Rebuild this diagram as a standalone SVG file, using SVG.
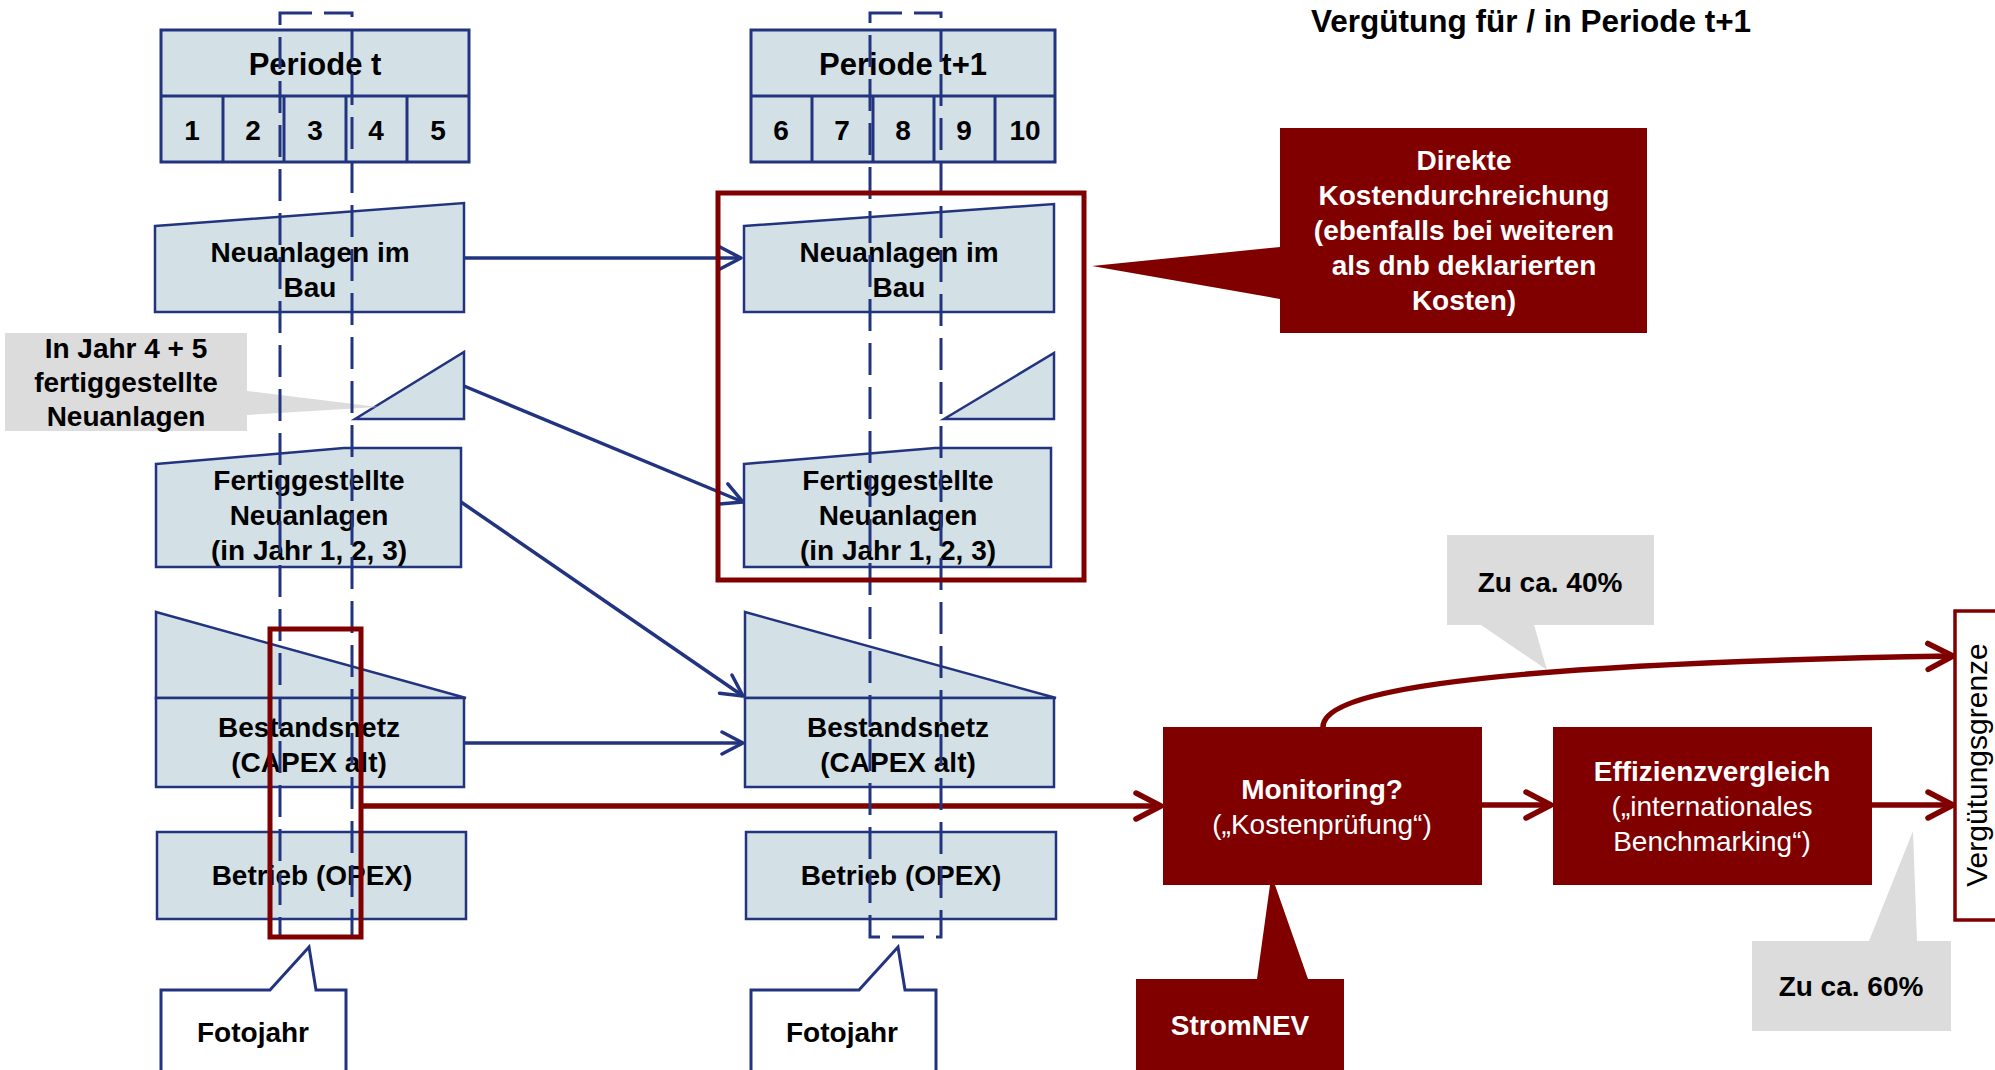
<svg xmlns="http://www.w3.org/2000/svg" width="1995" height="1070" viewBox="0 0 1995 1070">
<style>
.box{fill:#D3E0E6;stroke:#22347F;stroke-width:2.5}
.hdr{fill:#D3E0E6;stroke:#22347F;stroke-width:3}
.t{font-family:"Liberation Sans",Arial,sans-serif;font-weight:bold;font-size:28px;text-anchor:middle;fill:#000}
.w{fill:#fff}
.n{font-weight:normal}
.dash{fill:none;stroke:#22347F;stroke-width:3;stroke-dasharray:32 12}
.nav{fill:none;stroke:#22347F;stroke-width:3.5;marker-end:url(#ah)}
.red{fill:none;stroke:#800000;stroke-width:5.5;marker-end:url(#ahr)}
.hl{fill:none;stroke:#800000;stroke-width:5}
.gray{fill:#DCDCDC}
.dr{fill:#800000}
.foto{fill:#fff;stroke:#22347F;stroke-width:3}
</style>
<defs>
<marker id="ah" markerUnits="userSpaceOnUse" markerWidth="26" markerHeight="28" viewBox="0 0 26 28" refX="23" refY="14" orient="auto"><path d="M2,3 L23,14 L2,25" fill="none" stroke="#22347F" stroke-width="3.5" stroke-linecap="round" stroke-linejoin="round"/></marker>
<marker id="ahr" markerUnits="userSpaceOnUse" markerWidth="32" markerHeight="34" viewBox="0 0 32 34" refX="28" refY="17" orient="auto"><path d="M3,4 L28,17 L3,30" fill="none" stroke="#800000" stroke-width="5.5" stroke-linecap="round" stroke-linejoin="round"/></marker>
</defs>

<text class="t" x="1531" y="32" style="font-size:31.5px">Vergütung für / in Periode t+1</text>

<g id="periode-t">
<rect class="hdr" x="161" y="30" width="308" height="132"/>
<path d="M161,96 H469 M223,96 V162 M284,96 V162 M346,96 V162 M407,96 V162" stroke="#22347F" stroke-width="3" fill="none"/>
<text class="t" x="315" y="75" style="font-size:31px">Periode t</text>
<text class="t" x="192" y="140">1</text>
<text class="t" x="253" y="140">2</text>
<text class="t" x="315" y="140">3</text>
<text class="t" x="376" y="140">4</text>
<text class="t" x="438" y="140">5</text>
</g>
<g id="periode-t1">
<rect class="hdr" x="751" y="30" width="304" height="132"/>
<path d="M751,96 H1055 M812,96 V162 M873,96 V162 M934,96 V162 M995,96 V162" stroke="#22347F" stroke-width="3" fill="none"/>
<text class="t" x="903" y="75" style="font-size:31px">Periode t+1</text>
<text class="t" x="781" y="140">6</text>
<text class="t" x="842" y="140">7</text>
<text class="t" x="903" y="140">8</text>
<text class="t" x="964" y="140">9</text>
<text class="t" x="1025" y="140">10</text>
</g>

<g id="neuanlagen-bau-t">
<polygon class="box" points="155,226 464,203 464,312 155,312"/>
<text class="t" x="310" y="262">Neuanlagen im</text>
<text class="t" x="310" y="297">Bau</text>
</g>
<g id="neuanlagen-bau-t1">
<polygon class="box" points="744,226 1054,204 1054,312 744,312"/>
<text class="t" x="899" y="262">Neuanlagen im</text>
<text class="t" x="899" y="297">Bau</text>
</g>
<g id="dreieck-t"><polygon class="box" points="355,419 464,352 464,419"/></g>
<g id="dreieck-t1"><polygon class="box" points="944,419 1054,353 1054,419"/></g>
<g id="fertig-t">
<polygon class="box" points="156,464 344,448 461,448 461,567 156,567"/>
<text class="t" x="309" y="490">Fertiggestellte</text>
<text class="t" x="309" y="525">Neuanlagen</text>
<text class="t" x="309" y="560">(in Jahr 1, 2, 3)</text>
</g>
<g id="fertig-t1">
<polygon class="box" points="744,464 935,448 1051,448 1051,567 744,567"/>
<text class="t" x="898" y="490">Fertiggestellte</text>
<text class="t" x="898" y="525">Neuanlagen</text>
<text class="t" x="898" y="560">(in Jahr 1, 2, 3)</text>
</g>
<g id="bestand-t">
<polygon class="box" points="156,612 466,698 156,698"/>
<rect class="box" x="156" y="698" width="308" height="89"/>
<text class="t" x="309" y="737">Bestandsnetz</text>
<text class="t" x="309" y="772">(CAPEX alt)</text>
</g>
<g id="bestand-t1">
<polygon class="box" points="745,612 1056,698 745,698"/>
<rect class="box" x="745" y="698" width="309" height="89"/>
<text class="t" x="898" y="737">Bestandsnetz</text>
<text class="t" x="898" y="772">(CAPEX alt)</text>
</g>
<g id="betrieb-t">
<rect class="box" x="157" y="832" width="309" height="87"/>
<text class="t" x="312" y="885">Betrieb (OPEX)</text>
</g>
<g id="betrieb-t1">
<rect class="box" x="746" y="832" width="310" height="87"/>
<text class="t" x="901" y="885">Betrieb (OPEX)</text>
</g>

<g id="callout-jahr45">
<path class="gray" d="M5,333 H247 V391 L378,407 L247,415 V431 H5 Z"/>
<text class="t" x="126" y="358">In Jahr 4 + 5</text>
<text class="t" x="126" y="392">fertiggestellte</text>
<text class="t" x="126" y="426">Neuanlagen</text>
</g>

<g id="fotojahr-t">
<path class="foto" d="M161,1075 V990 H270 L309,947 L316,990 H346 V1075"/>
<text class="t" x="253" y="1042">Fotojahr</text>
</g>
<g id="fotojahr-t1">
<path class="foto" d="M751,1075 V990 H859 L898,947 L905,990 H936 V1075"/>
<text class="t" x="842" y="1042">Fotojahr</text>
</g>

<g id="callout-direkt">
<path class="dr" d="M1280,128 H1647 V333 H1280 V299 L1092,266 L1280,247 Z"/>
<text class="t w" x="1464" y="170">Direkte</text>
<text class="t w" x="1464" y="205">Kostendurchreichung</text>
<text class="t w" x="1464" y="240">(ebenfalls bei weiteren</text>
<text class="t w" x="1464" y="275">als dnb deklarierten</text>
<text class="t w" x="1464" y="310">Kosten)</text>
</g>

<g id="monitoring">
<rect class="dr" x="1163" y="727" width="319" height="158"/>
<text class="t w" x="1322" y="799">Monitoring?</text>
<text class="t w n" x="1322" y="834">(„Kostenprüfung“)</text>
</g>
<g id="effizienz">
<rect class="dr" x="1553" y="727" width="319" height="158"/>
<text class="t w" x="1712" y="781">Effizienzvergleich</text>
<text class="t w n" x="1712" y="816">(„internationales</text>
<text class="t w n" x="1712" y="851">Benchmarking“)</text>
</g>
<g id="stromnev">
<path class="dr" d="M1136,1075 V979 H1257 L1270,885 L1275,885 L1308,979 H1344 V1075 Z"/>
<text class="t w" x="1240" y="1035">StromNEV</text>
</g>
<g id="callout-40">
<path class="gray" d="M1447,535 H1654 V625 H1534 L1547,670 L1481,625 H1447 Z"/>
<text class="t" x="1550" y="592">Zu ca. 40%</text>
</g>
<g id="callout-60">
<path class="gray" d="M1752,941 H1869 L1913,831 L1917,941 H1951 V1031 H1752 Z"/>
<text class="t" x="1851" y="996">Zu ca. 60%</text>
</g>
<g id="verguetungsgrenze">
<rect x="1955" y="611" width="60" height="309" fill="#fff" stroke="#800000" stroke-width="3.5"/>
<text x="1987" y="765" transform="rotate(-90 1987 765)" style="font-family:'Liberation Sans',Arial,sans-serif;font-size:30px;text-anchor:middle;fill:#000">Vergütungsgrenze</text>
</g>

<g id="connectors">
<path class="nav" d="M464,258 L741,258"/>
<path class="nav" d="M464,386 L743,502"/>
<path class="nav" d="M461,502 L743,696"/>
<path class="nav" d="M464,743 L743,743"/>
<path class="red" d="M361,806 H1161"/>
<path class="red" d="M1482,805 H1551"/>
<path class="red" d="M1872,805 H1953"/>
<path class="red" d="M1323,727 C1323,698 1420,665 1953,656"/>
</g>

<g id="zeitfenster">
<rect class="dash" x="280" y="13" width="72" height="924"/>
<rect class="dash" x="870" y="13" width="71" height="924"/>
</g>
<g id="markierungen">
<rect class="hl" x="718" y="193" width="366" height="387"/>
<rect class="hl" x="270" y="629" width="91" height="308"/>
</g>
</svg>
